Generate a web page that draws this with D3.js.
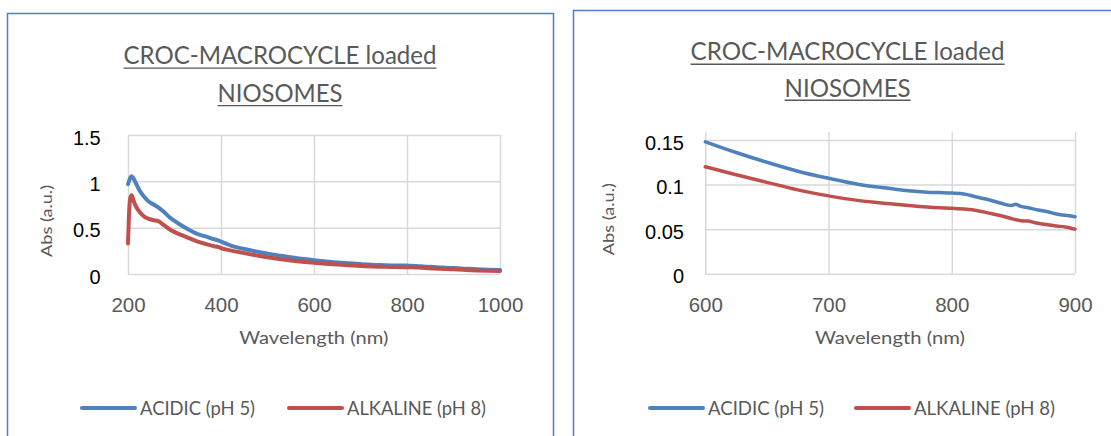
<!DOCTYPE html>
<html>
<head>
<meta charset="utf-8">
<script src="https://cdn.jsdelivr.net/npm/d3@7"></script>
<style>
  html, body { margin: 0; padding: 0; background: #fff; }
  svg { display: block; font-family: Lato, "Open Sans", "Liberation Sans", sans-serif; }
</style>
</head>
<body>
<svg id="chart" width="1111" height="436"></svg>
<script>
// UV-Vis absorbance of CROC-macrocycle loaded niosomes at two pH values
const wavelength = [200, 202, 205, 208, 212, 218, 225, 235, 245, 255, 265, 275, 290, 310, 330, 350, 370, 385, 395, 400,
  420, 450, 500, 550, 600, 625, 650, 675, 700, 725, 750, 765, 780, 790, 800, 810, 820, 830, 840, 848, 852, 856, 862,
  870, 878, 885, 892, 900, 925, 950, 975, 1000];

const acidic = [0.97, 1.00, 1.04, 1.055, 1.03, 0.97, 0.90, 0.83, 0.78, 0.75, 0.72, 0.68, 0.61, 0.54, 0.48, 0.43, 0.40,
  0.375, 0.36, 0.35, 0.31, 0.27, 0.22, 0.18, 0.148, 0.136, 0.125, 0.115, 0.107, 0.100, 0.0955, 0.093, 0.0915, 0.091,
  0.0905, 0.0895, 0.086, 0.083, 0.079, 0.0765, 0.078, 0.0755, 0.074, 0.0715, 0.0695, 0.067, 0.0655, 0.064, 0.058,
  0.052, 0.047, 0.044];

const alkaline = [0.33, 0.62, 0.82, 0.85, 0.79, 0.72, 0.67, 0.62, 0.595, 0.58, 0.57, 0.535, 0.48, 0.43, 0.39, 0.35, 0.32,
  0.30, 0.29, 0.28, 0.255, 0.225, 0.18, 0.145, 0.120, 0.111, 0.1025, 0.094, 0.0873, 0.082, 0.0785, 0.0765, 0.0748,
  0.074, 0.0735, 0.0725, 0.071, 0.068, 0.065, 0.062, 0.0605, 0.0595, 0.059, 0.0565, 0.055, 0.0535, 0.0525, 0.050,
  0.044, 0.039, 0.035, 0.032];

const seriesNames = ["ACIDIC (pH 5)", "ALKALINE (pH 8)"];
const seriesColors = ["#4F81BD", "#C0504D"];

const titleLines = ["CROC-MACROCYCLE loaded", "NIOSOMES"];
const xTitle = "Wavelength (nm)";
const yTitle = "Abs (a.u.)";

// full-range panel and zoomed 600–900 nm panel
const fullXTicks = [200, 400, 600, 800, 1000];
const fullYTicks = [0, 0.5, 1, 1.5];
const fullYLabels = ["0", "0.5", "1", "1.5"];
const zoomXTicks = [600, 700, 800, 900];
const zoomYTicks = [0, 0.05, 0.1, 0.15];
const zoomYLabels = ["0", "0.05", "0.1", "0.15"];

const panels = [
  {
    frame: { x: 7.5, y: 13.5, w: 546, h: 450 },
    xDomain: [200, 1000], yDomain: [0, 1.5],
    xRange: [128, 500], yRange: [274, 135], gridTop: 135,
    xTicks: fullXTicks, yTicks: fullYTicks, yLabels: fullYLabels,
    lineWidth: 4,
    titleX: 280, titleBase: [64.3, 101.8], titleW: [313, 125],
    yLabelRight: 100.7,
    xTitleX: 313.8, xTitleW: 149,
    yTitleX: 52, yTitleY: 221,
    legend: [{ x0: 82, x1: 135, tx: 140, tw: 115 }, { x0: 289, x1: 342, tx: 347, tw: 139 }]
  },
  {
    frame: { x: 573.5, y: 10.5, w: 560, h: 450 },
    xDomain: [600, 900], yDomain: [0, 0.15],
    xRange: [705.3, 1075], yRange: [273.7, 140], gridTop: 132.3,
    xTicks: zoomXTicks, yTicks: zoomYTicks, yLabels: zoomYLabels,
    lineWidth: 3.5,
    titleX: 847.6, titleBase: [60.4, 96.5], titleW: [314, 126],
    yLabelRight: 684,
    xTitleX: 890, xTitleW: 150,
    yTitleX: 613.5, yTitleY: 219.2,
    legend: [{ x0: 650, x1: 703, tx: 708, tw: 116 }, { x0: 856, x1: 909, tx: 914, tw: 141 }]
  }
];

const svg = d3.select("#chart");
const textGray = "#595959";

function fitText(sel, width) {
  sel.attr("textLength", width).attr("lengthAdjust", "spacingAndGlyphs");
  return sel;
}

panels.forEach(p => {
  const g = svg.append("g");

  // chart frame
  g.append("rect")
    .attr("x", p.frame.x).attr("y", p.frame.y)
    .attr("width", p.frame.w).attr("height", p.frame.h)
    .attr("fill", "#fff").attr("stroke", "#4F81BD").attr("stroke-width", 1.5);

  const x = d3.scaleLinear().domain(p.xDomain).range(p.xRange);
  const y = d3.scaleLinear().domain(p.yDomain).range(p.yRange);

  // underlined two-line title
  titleLines.forEach((t, i) => {
    const txt = g.append("text")
      .attr("x", p.titleX).attr("y", p.titleBase[i])
      .attr("text-anchor", "middle")
      .attr("font-size", 25).attr("fill", textGray)
      .text(t);
    fitText(txt, p.titleW[i]);
    g.append("line")
      .attr("x1", p.titleX - p.titleW[i] / 2).attr("x2", p.titleX + p.titleW[i] / 2)
      .attr("y1", p.titleBase[i] + 3.8).attr("y2", p.titleBase[i] + 3.8)
      .attr("stroke", textGray).attr("stroke-width", 1.4);
  });

  // vertical gridlines and x tick labels
  const xAxis = d3.axisBottom(x).tickValues(p.xTicks).tickFormat(d3.format("d"))
    .tickSize(0).tickPadding(0);
  const xg = g.append("g").attr("transform", `translate(0,${p.yRange[0]})`).call(xAxis);
  xg.select(".domain").remove();
  xg.selectAll(".tick text")
    .attr("y", 38).attr("dy", 0)
    .attr("font-size", 20.5).attr("fill", textGray)
    .attr("font-family", null);
  xg.selectAll(".tick").append("line")
    .attr("y1", 0).attr("y2", p.gridTop - p.yRange[0])
    .attr("stroke", "#D9D9D9").attr("stroke-width", 1.5);

  // horizontal gridlines and y tick labels
  const yAxis = d3.axisLeft(y).tickValues(p.yTicks)
    .tickFormat((d, i) => p.yLabels[i]).tickSize(0).tickPadding(0);
  const yg = g.append("g").attr("transform", `translate(${p.yLabelRight},0)`).call(yAxis);
  yg.select(".domain").remove();
  yg.selectAll(".tick text")
    .attr("x", 0).attr("dy", "0.36em")
    .attr("transform", "translate(0,2)")
    .attr("font-size", 20).attr("fill", "#000")
    .attr("font-family", null);
  yg.selectAll(".tick").append("line")
    .attr("x1", p.xRange[0] - p.yLabelRight).attr("x2", p.xRange[1] - p.yLabelRight)
    .attr("stroke", "#D9D9D9").attr("stroke-width", 1.5);

  // axis titles
  fitText(g.append("text")
    .attr("x", p.xTitleX).attr("y", 344)
    .attr("text-anchor", "middle")
    .attr("font-size", 18).attr("fill", textGray)
    .text(xTitle), p.xTitleW);

  fitText(g.append("text")
    .attr("transform", `translate(${p.yTitleX},${p.yTitleY}) rotate(-90)`)
    .attr("text-anchor", "middle")
    .attr("font-size", 15).attr("fill", textGray)
    .text(yTitle), 72);

  // absorbance curves
  const line = d3.line()
    .x(d => x(d[0])).y(d => y(d[1]))
    .curve(d3.curveMonotoneX);
  [acidic, alkaline].forEach((vals, si) => {
    const pts = wavelength.map((w, i) => [w, vals[i]])
      .filter(d => d[0] >= p.xDomain[0] && d[0] <= p.xDomain[1]);
    g.append("path")
      .attr("d", line(pts))
      .attr("fill", "none")
      .attr("stroke", seriesColors[si])
      .attr("stroke-width", p.lineWidth)
      .attr("stroke-linejoin", "round")
      .attr("stroke-linecap", "round");
  });

  // legend
  p.legend.forEach((L, si) => {
    g.append("line")
      .attr("x1", L.x0).attr("x2", L.x1).attr("y1", 408).attr("y2", 408)
      .attr("stroke", seriesColors[si]).attr("stroke-width", 4)
      .attr("stroke-linecap", "round");
    fitText(g.append("text")
      .attr("x", L.tx).attr("y", 414.5)
      .attr("font-size", 19).attr("fill", textGray)
      .text(seriesNames[si]), L.tw);
  });
});
</script>
</body>
</html>
